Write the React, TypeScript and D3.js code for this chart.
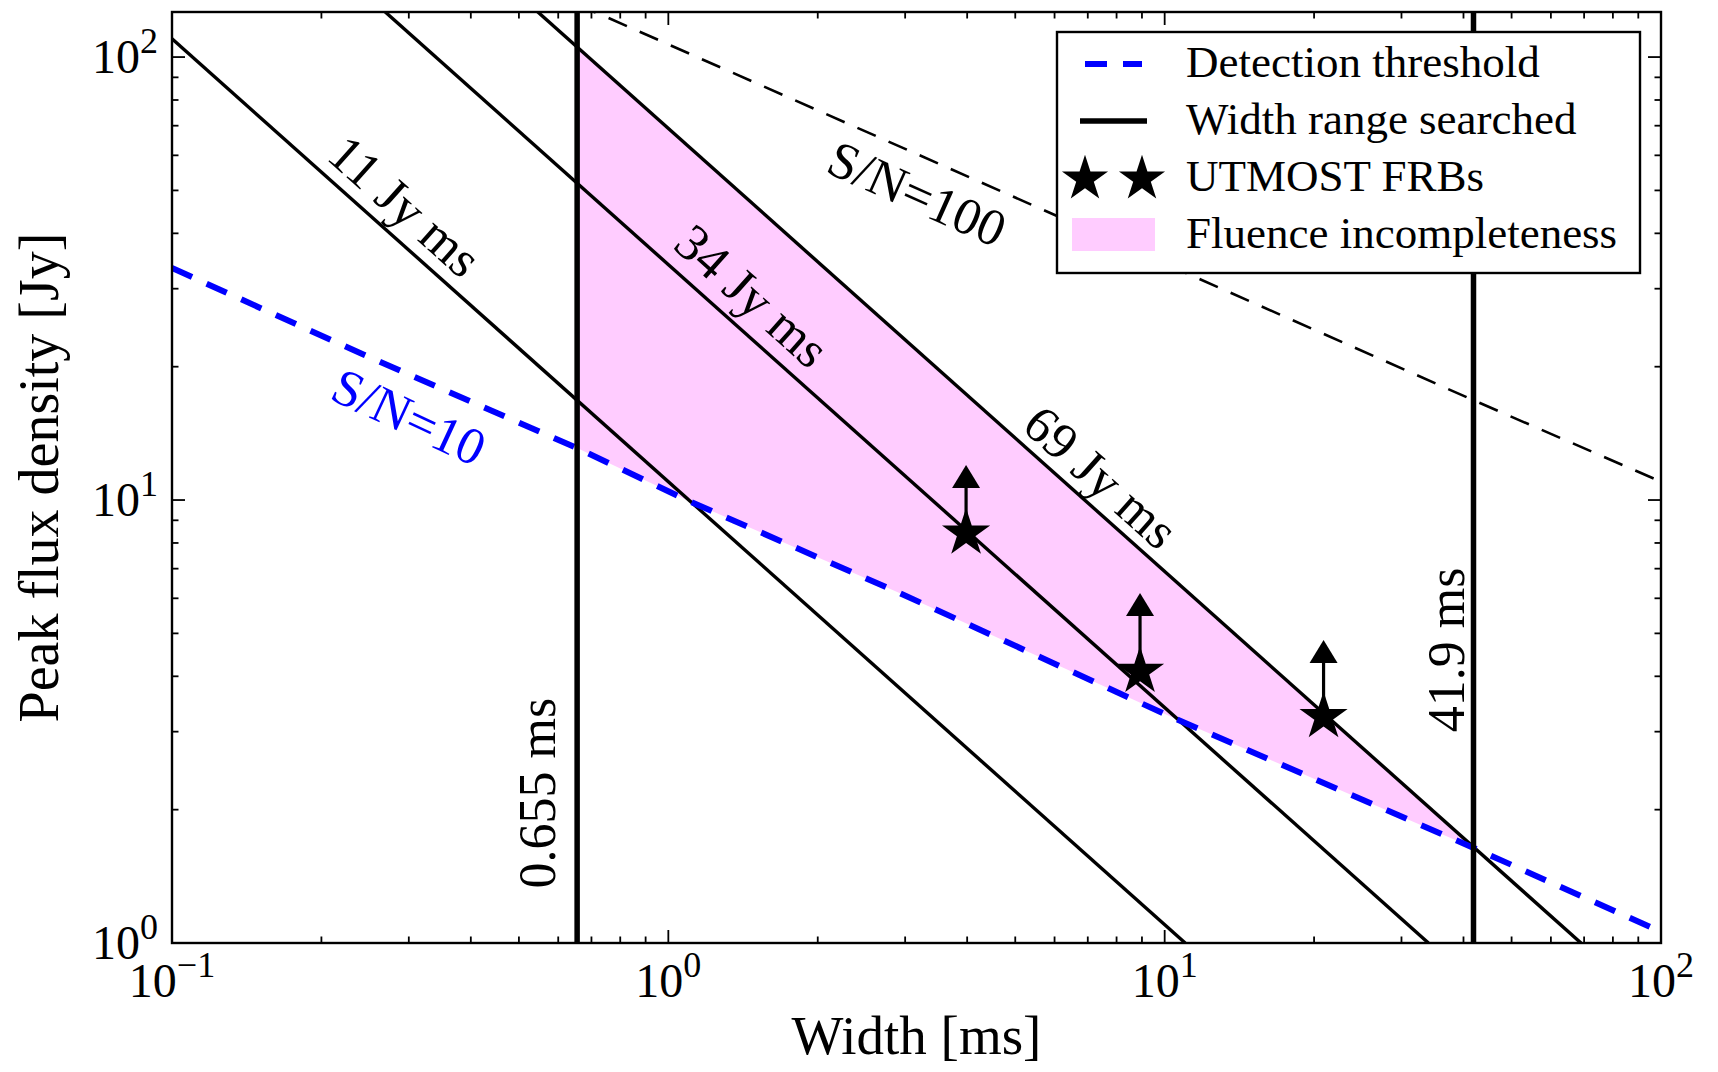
import React from 'react';
import * as d3 from 'd3';

const width = 1718;
const height = 1072;
const plot = { left: 172, right: 1661, top: 12, bottom: 943 };

// detection threshold (S/N = 10)
const thresholdWidth = [0.1, 0.243, 0.655, 1.089, 2.93, 10.3, 41.4, 100];
const thresholdFlux = [33.4, 21.3, 13.1, 10.0, 6.16, 3.24, 1.65, 1.06];

// S/N = 100 curve
const snr100Width = [0.655, 0.752, 6.15, 41.9, 100];
const snr100Flux = [131, 123, 43.5, 16.8, 11.0];

// lines of constant fluence
const fluenceLabels = ['11 Jy ms', '34 Jy ms', '69 Jy ms'];
const fluenceStartWidth = [0.1, 0.25, 0.5];
const fluenceStartFlux = [110, 136, 138];
const fluenceEndWidth = [11, 34, 69];
const fluenceEndFlux = [1, 1, 1];

// searched width range
const searchedWidths = [0.655, 41.9];
const searchedLabels = ['0.655 ms', '41.9 ms'];

// UTMOST FRBs (lower limits)
const frbWidth = [3.98, 8.92, 20.9];
const frbFlux = [8.41, 4.1, 3.24];
const frbLimitTop = [12.0, 6.17, 4.83];

// top edge of the incompleteness region (along 69 Jy ms)
const incompleteWidth = [0.655, 41.4];
const incompleteFlux = [105.3, 1.65];

const xTickExp = ['\u22121', '0', '1', '2'];
const yTickExp = ['0', '1', '2'];

const legendLabels = ['Detection threshold', 'Width range searched', 'UTMOST FRBs', 'Fluence incompleteness'];

// text annotations, in data coordinates
const annotations = [
  { text: fluenceLabels[0], w: 0.2947, s: 46.1, angle: 41.75, color: 'black' },
  { text: fluenceLabels[1], w: 1.475, s: 28.9, angle: 41.75, color: 'black' },
  { text: fluenceLabels[2], w: 7.44, s: 11.27, angle: 41.75, color: 'black' },
  { text: 'S/N=100', w: 3.17, s: 49.1, angle: 24, color: 'black' },
  { text: 'S/N=10', w: 0.3003, s: 15.4, angle: 25, color: '#0000ff' },
  { text: searchedLabels[0], w: 0.546, s: 2.18, angle: -90, color: 'black' },
  { text: searchedLabels[1], w: 36.9, s: 4.59, angle: -90, color: 'black' },
];

const FONT = '"Liberation Serif", "Times New Roman", serif';
const PINK = '#ffccff';
const BLUE = '#0000ff';

export default function App() {
  const x = d3.scaleLog().domain([0.1, 100]).range([plot.left, plot.right]);
  const y = d3.scaleLog().domain([1, 126.4]).range([plot.bottom, plot.top]);

  const line = d3
    .line<[number, number]>()
    .x((d) => x(d[0]))
    .y((d) => y(d[1]));

  const threshold: [number, number][] = thresholdWidth.map((w, i) => [w, thresholdFlux[i]]);
  const snr100: [number, number][] = snr100Width.map((w, i) => [w, snr100Flux[i]]);

  const lowerEdge = threshold
    .filter((d) => d[0] >= incompleteWidth[0] && d[0] <= incompleteWidth[1])
    .reverse();
  const region: [number, number][] = [
    ...incompleteWidth.map((w, i) => [w, incompleteFlux[i]] as [number, number]),
    ...lowerEdge,
  ];

  const star = d3.symbol(d3.symbolStar, 720)();
  const legendStar = d3.symbol(d3.symbolStar, 660)();

  const xMajor = [0.1, 1, 10, 100];
  const yMajor = [1, 10, 100];
  const xMinor = x.ticks().filter((t) => !xMajor.some((m) => Math.abs(m - t) / m < 1e-6));
  const yMinor = y.ticks().filter((t) => !yMajor.some((m) => Math.abs(m - t) / m < 1e-6));

  const majLen = 13;
  const minLen = 6.5;

  const legendX = 1057;
  const legendY = 32;
  const legendRows = [77, 134, 191, 248];

  return (
    <svg
      width={width}
      height={height}
      style={{ position: 'absolute', left: 0, top: 0, background: 'white' }}
      fontFamily={FONT}
    >
      <defs>
        <clipPath id="plotArea">
          <rect x={plot.left} y={plot.top} width={plot.right - plot.left} height={plot.bottom - plot.top} />
        </clipPath>
      </defs>

      <g clipPath="url(#plotArea)">
        <path d={line(region) + 'Z'} fill={PINK} stroke="none" />

        {fluenceLabels.map((f, i) => (
          <path
            key={f}
            d={line([
              [fluenceStartWidth[i], fluenceStartFlux[i]],
              [fluenceEndWidth[i], fluenceEndFlux[i]],
            ])!}
            fill="none"
            stroke="black"
            strokeWidth={3.4}
          />
        ))}

        <path d={line(snr100)!} fill="none" stroke="black" strokeWidth={2.6} strokeDasharray="20,14" />
        <path d={line(threshold)!} fill="none" stroke={BLUE} strokeWidth={6} strokeDasharray="22,16" />

        {searchedWidths.map((w) => (
          <line key={w} x1={x(w)} x2={x(w)} y1={plot.top} y2={plot.bottom} stroke="black" strokeWidth={5.5} />
        ))}

        {frbWidth.map((w, i) => {
          const cx = x(w);
          const cy = y(frbFlux[i]);
          const tip = y(frbLimitTop[i]);
          return (
            <g key={w}>
              <line x1={cx} x2={cx} y1={cy} y2={tip + 18} stroke="black" strokeWidth={3.2} />
              <path d={`M${cx},${tip} L${cx - 14},${tip + 23} L${cx + 14},${tip + 23} Z`} fill="black" />
              <path d={star!} transform={`translate(${cx},${cy})`} fill="black" />
            </g>
          );
        })}
      </g>

      {annotations.map((a) => {
        const ax = x(a.w);
        const ay = y(a.s);
        return (
          <text
            key={a.text}
            x={ax}
            y={ay}
            transform={`rotate(${a.angle},${ax},${ay})`}
            textAnchor="middle"
            dominantBaseline="central"
            fontSize={52}
            fill={a.color}
          >
            {a.text}
          </text>
        );
      })}

      {/* frame */}
      <rect
        x={plot.left}
        y={plot.top}
        width={plot.right - plot.left}
        height={plot.bottom - plot.top}
        fill="none"
        stroke="black"
        strokeWidth={2.4}
      />

      {/* ticks on all sides, pointing inwards */}
      <g stroke="black" strokeWidth={1.8}>
        {xMajor.concat(xMinor).map((t) => {
          const len = xMajor.includes(t) ? majLen : minLen;
          return (
            <g key={'x' + t}>
              <line x1={x(t)} x2={x(t)} y1={plot.bottom} y2={plot.bottom - len} />
              <line x1={x(t)} x2={x(t)} y1={plot.top} y2={plot.top + len} />
            </g>
          );
        })}
        {yMajor.concat(yMinor).map((t) => {
          const len = yMajor.includes(t) ? majLen : minLen;
          return (
            <g key={'y' + t}>
              <line x1={plot.left} x2={plot.left + len} y1={y(t)} y2={y(t)} />
              <line x1={plot.right} x2={plot.right - len} y1={y(t)} y2={y(t)} />
            </g>
          );
        })}
      </g>

      {xMajor.map((t, i) => (
        <text key={'xl' + t} x={x(t)} y={997} textAnchor="middle" fontSize={48}>
          10
          <tspan dy={-20} fontSize={36}>
            {xTickExp[i]}
          </tspan>
        </text>
      ))}
      {yMajor.map((t, i) => (
        <text key={'yl' + t} x={158} y={y(t) + 16} textAnchor="end" fontSize={48}>
          10
          <tspan dy={-20} fontSize={36}>
            {yTickExp[i]}
          </tspan>
        </text>
      ))}

      <text x={(plot.left + plot.right) / 2} y={1054} textAnchor="middle" fontSize={55}>
        Width [ms]
      </text>
      <text
        x={58}
        y={(plot.top + plot.bottom) / 2}
        transform={`rotate(-90,58,${(plot.top + plot.bottom) / 2})`}
        textAnchor="middle"
        fontSize={56}
      >
        Peak flux density [Jy]
      </text>

      {/* legend */}
      <g>
        <rect x={legendX} y={legendY} width={583} height={241} fill="white" stroke="black" strokeWidth={2.4} />
        <line
          x1={1085}
          x2={1142}
          y1={legendRows[0] - 13}
          y2={legendRows[0] - 13}
          stroke={BLUE}
          strokeWidth={6}
          strokeDasharray="22,16"
        />
        <line x1={1080} x2={1147} y1={legendRows[1] - 13} y2={legendRows[1] - 13} stroke="black" strokeWidth={5.5} />
        <path d={legendStar!} transform={`translate(1085,${legendRows[2] - 12})`} fill="black" />
        <path d={legendStar!} transform={`translate(1142,${legendRows[2] - 12})`} fill="black" />
        <rect x={1072} y={legendRows[3] - 30} width={83} height={33} fill={PINK} />
        {legendLabels.map((l, i) => (
          <text key={l} x={1186} y={legendRows[i]} fontSize={45}>
            {l}
          </text>
        ))}
      </g>
    </svg>
  );
}
